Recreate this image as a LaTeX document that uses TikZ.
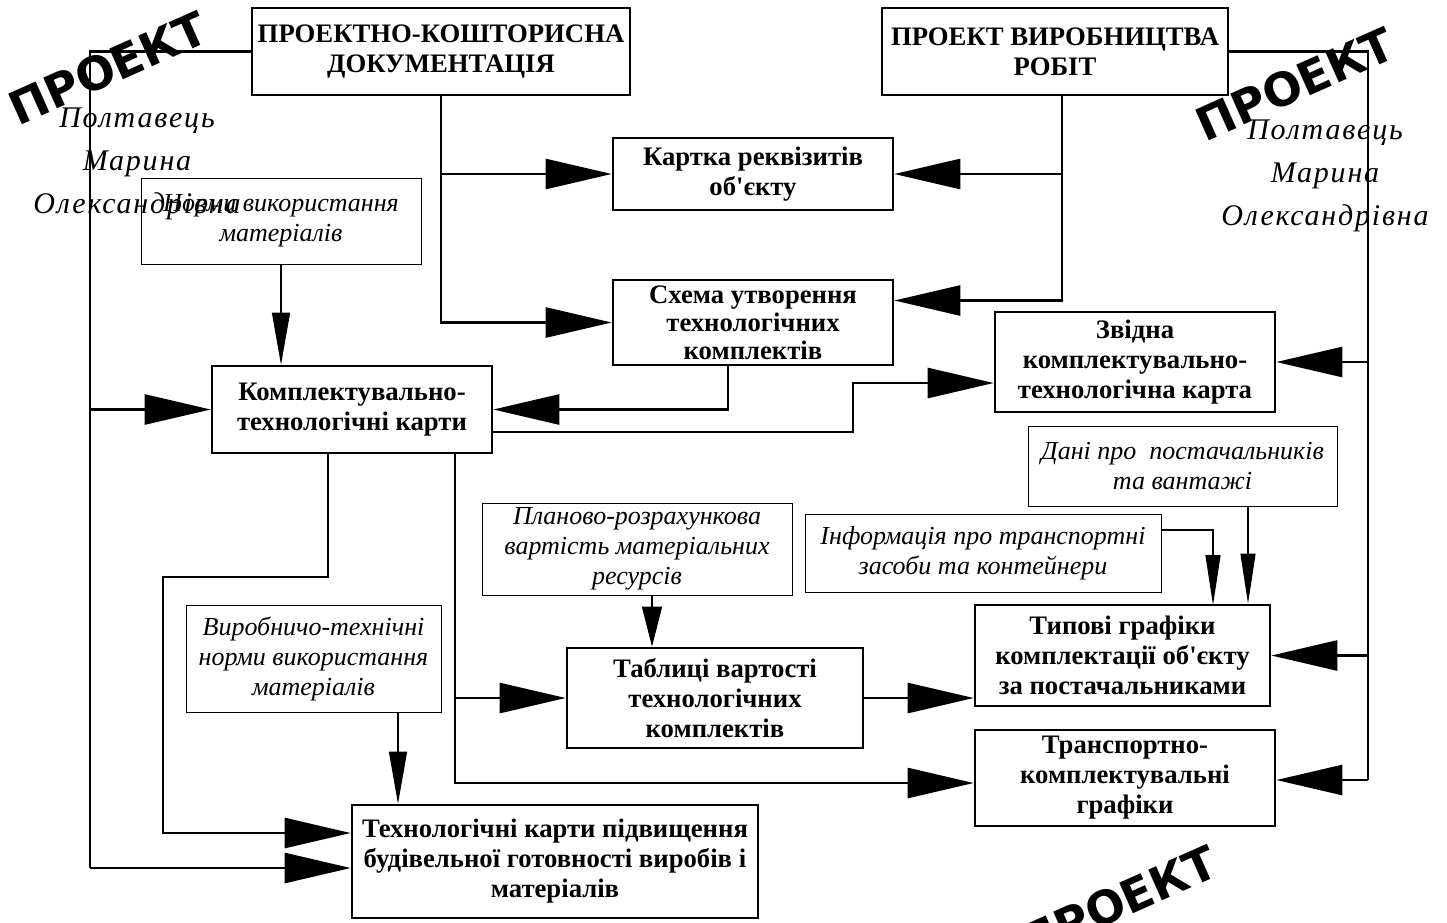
\documentclass[tikz,border=0pt]{standalone}
\usepackage{fontspec}
\setmainfont{Liberation Serif}[Ligatures=TeXOff]
\newfontfamily\stampfont{DejaVu Sans}
\newfontfamily\handfont[LetterSpace=6]{Liberation Serif}
\usetikzlibrary{arrows.meta}

\begin{document}
\begin{tikzpicture}[x=1pt,y=-1pt,
  mainbox/.style={draw, line width=2.6pt, align=center, inner sep=0pt,
    font=\fontsize{26.7}{30}\selectfont\bfseries},
  notebox/.style={draw, line width=1pt, align=center, inner sep=0pt,
    font=\fontsize{26}{30}\selectfont\itshape},
  link/.style={line width=2.6pt},
  thinlink/.style={line width=1.2pt},
  bigtip/.style={-{Triangle[length=66pt,width=30pt]}},
  smalltip/.style={-{Triangle[length=52pt,width=18pt]}},
  stamp/.style={rotate=24, inner sep=0pt, font=\stampfont\bfseries\fontsize{46}{46}\selectfont},
  hand/.style={align=center, inner sep=0pt, font=\handfont\itshape\fontsize{30}{43}\selectfont}
]
\clip (0,0) rectangle (1447,922);
\fill[white] (0,0) rectangle (1447,922);

% main blocks
\node[mainbox, minimum width=378pt, minimum height=87pt] (pkd) at (441,51.5)
  {ПРОЕКТНО-КОШТОРИСНА\\ДОКУМЕНТАЦІЯ};
\node[mainbox, minimum width=346pt, minimum height=87pt] (pvr) at (1055,51.5)
  {ПРОЕКТ ВИРОБНИЦТВА\\РОБІТ};
\node[mainbox, minimum width=280pt, minimum height=72pt] (kartka) at (753,174)
  {Картка реквізитів\\об'єкту};
\node[mainbox, minimum width=280pt, minimum height=85pt, font=\fontsize{26.7}{28}\selectfont\bfseries] (skhema) at (753,322.5)
  {Схема утворення\\технологічних\\комплектів};
\node[mainbox, minimum width=280pt, minimum height=87pt] (kompl) at (352,409.5)
  {Комплектувально-\\технологічні карти};
\node[mainbox, minimum width=280pt, minimum height=100pt] (zvidna) at (1135,362)
  {Звідна\\комплектувально-\\технологічна карта};
\node[mainbox, minimum width=295pt, minimum height=101pt] (typovi) at (1122.5,655.5)
  {Типові графіки\\комплектації об'єкту\\за постачальниками};
\node[mainbox, minimum width=296pt, minimum height=100pt] (tabl) at (715,698)
  {Таблиці вартості\\технологічних\\комплектів};
\node[mainbox, minimum width=300pt, minimum height=96pt] (transp) at (1125,778)
  {Транспортно-\\комплектувальні\\графіки};
\node[mainbox, minimum width=406pt, minimum height=113pt] (tekh) at (555,861.5)
  {Технологічні карти підвищення\\будівельної готовності виробів і\\матеріалів};

% input data blocks
\node[notebox, minimum width=280pt, minimum height=86pt] (normy) at (281,221)
  {Норми використання\\матеріалів};
\node[notebox, minimum width=309pt, minimum height=80pt] (dani) at (1182.5,466)
  {Дані про~ постачальників\\та вантажі};
\node[notebox, minimum width=356pt, minimum height=78pt] (info) at (983,553)
  {Інформація про транспортні\\засоби та контейнери};
\node[notebox, minimum width=310pt, minimum height=92pt] (plan) at (637,549)
  {Планово-розрахункова\\вартість матеріальних\\ресурсів};
\node[notebox, minimum width=255pt, minimum height=107pt] (vyrob) at (313.5,658.5)
  {Виробничо-технічні\\норми використання\\матеріалів};

% junction points of the trunk lines
\coordinate (lt) at (90,51.5);
\coordinate (lb) at (90,868);
\coordinate (pv) at (1062,95);
\coordinate (rt) at (1368,51.5);
\coordinate (rb) at (1368,780);
\coordinate (sk) at (728,365);
\coordinate (kz) at (853,432);
\coordinate (k1) at (328,453);
\coordinate (k2) at (455,453);
\coordinate (pl) at (652,595);
\coordinate (vy) at (398,712);
\coordinate (dn) at (1248,506);
\coordinate (it) at (1213,605);

% left trunk from the design documentation
\draw[link] (pkd.west) -- (lt) -- (lb);
\draw[link, bigtip] (lt |- kompl.west) -- (kompl.west);
\draw[link, bigtip] (lb) -- (tekh.west |- lb);

% design documentation down to the object card and the scheme
\draw[link, bigtip] (pkd.south) |- (skhema.west);
\draw[link, bigtip] (pkd.south |- kartka.west) -- (kartka.west);

% work execution project down to the object card and the scheme
\draw[link, bigtip] (pv) |- ([yshift=22pt]skhema.east);
\draw[link, bigtip] (pv |- kartka.east) -- (kartka.east);

% right trunk from the work execution project
\draw[link] (pvr.east) -- (rt) -- (rb);
\draw[link, bigtip] (rt |- zvidna.east) -- (zvidna.east);
\draw[link, bigtip] (rt |- typovi.east) -- (typovi.east);
\draw[link, bigtip] (rb) -- (transp.east |- rb);

% flows around the completing-technological cards
\draw[thinlink, smalltip] (normy.south) -- (normy.south |- kompl.north);
\draw[link, bigtip] (sk) |- (kompl.east);
\draw[link, bigtip] ([yshift=-22.5pt]kompl.east) -- (kz) |- ([yshift=-21pt]zvidna.west);
\draw[link, bigtip] (k1) -- (328,577) -- (163,577) |- ([yshift=28.5pt]tekh.west);
\draw[link, bigtip] (k2) |- ([yshift=-5pt]transp.west);
\draw[link, bigtip] (k2 |- tabl.west) -- (tabl.west);
\draw[link, bigtip] (tabl.east) -- (tabl.east -| typovi.west);

% supporting data inputs
\draw[thinlink, -{Triangle[length=40pt,width=20pt]}] (pl) -- (pl |- tabl.north);
\draw[thinlink, smalltip] (vy) -- (vy |- tekh.north);
\draw[thinlink, -{Triangle[length=50pt,width=15pt]}] (dn) -- (dn |- typovi.north);
\draw[thinlink, -{Triangle[length=50pt,width=15pt]}] ([yshift=23pt]info.east) -| (it);

% stamps and signature
\node[stamp] (stampA) at (108,68) {ПРОЕКТ};
\node[stamp] (stampB) at (1295,84) {ПРОЕКТ};
\node[stamp] (stampC) at (1118,902) {ПРОЕКТ};
\node[hand] (signA) at (137,164) {Полтавець\\Марина\\Олександрівна};
\node[hand] (signB) at (1325,176) {Полтавець\\Марина\\Олександрівна};
\end{tikzpicture}
\end{document}
